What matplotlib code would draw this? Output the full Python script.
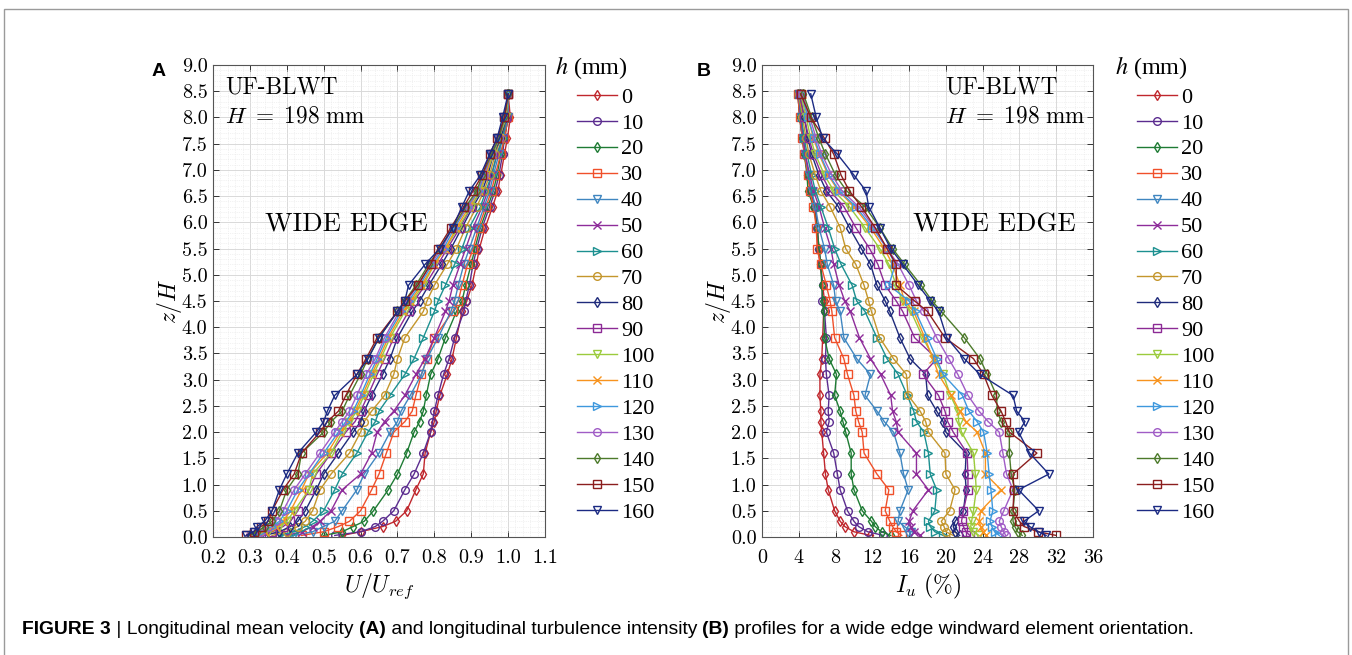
import matplotlib
matplotlib.use("Agg")
import matplotlib.pyplot as plt
from matplotlib.ticker import MultipleLocator, AutoMinorLocator
from matplotlib.patches import Rectangle

# ---------------- data ----------------
z_over_H = [0.03, 0.1, 0.2, 0.3, 0.5, 0.9, 1.2, 1.6, 2.0, 2.2, 2.4, 2.7, 3.1, 3.4,
            3.8, 4.3, 4.5, 4.8, 5.2, 5.5, 5.9, 6.3, 6.6, 6.9, 7.3, 7.6, 8.0, 8.45]

h_labels = ["0", "10", "20", "30", "40", "50", "60", "70", "80", "90",
            "100", "110", "120", "130", "140", "150", "160"]

# Panel A: U/Uref
U_h0   = [0.55, 0.60, 0.66, 0.695, 0.725, 0.75, 0.77, 0.775, 0.79, 0.80, 0.805, 0.815, 0.835, 0.848, 0.86,
          0.875, 0.888, 0.902, 0.914, 0.922, 0.938, 0.958, 0.972, 0.98, 0.99, 0.998, 1.006, 1.0]
U_h10  = [0.53, 0.60, 0.64, 0.66, 0.69, 0.72, 0.745, 0.77, 0.79, 0.795, 0.80, 0.81, 0.825, 0.84, 0.855,
          0.88, 0.885, 0.895, 0.905, 0.915, 0.93, 0.95, 0.965, 0.975, 0.985, 0.99, 1.0, 1.0]
U_h20  = [0.50, 0.55, 0.58, 0.61, 0.635, 0.675, 0.70, 0.725, 0.745, 0.76, 0.77, 0.778, 0.79, 0.81, 0.83,
          0.86, 0.875, 0.885, 0.90, 0.91, 0.925, 0.945, 0.96, 0.97, 0.98, 0.99, 1.0, 1.0]
U_h30  = [0.44, 0.50, 0.54, 0.57, 0.60, 0.63, 0.65, 0.67, 0.69, 0.72, 0.74, 0.75, 0.765, 0.78, 0.80,
          0.85, 0.865, 0.875, 0.89, 0.905, 0.92, 0.94, 0.955, 0.965, 0.98, 0.99, 1.0, 1.0]
U_h40  = [0.42, 0.47, 0.50, 0.53, 0.55, 0.59, 0.61, 0.65, 0.68, 0.70, 0.71, 0.735, 0.765, 0.78, 0.81,
          0.845, 0.855, 0.865, 0.88, 0.895, 0.915, 0.935, 0.95, 0.96, 0.975, 0.985, 1.0, 1.0]
U_h50  = [0.40, 0.44, 0.47, 0.49, 0.52, 0.55, 0.60, 0.63, 0.645, 0.665, 0.69, 0.72, 0.75, 0.775, 0.80,
          0.83, 0.84, 0.85, 0.87, 0.885, 0.905, 0.93, 0.945, 0.955, 0.97, 0.985, 0.995, 1.0]
U_h60  = [0.38, 0.42, 0.45, 0.47, 0.50, 0.53, 0.55, 0.59, 0.62, 0.64, 0.65, 0.68, 0.72, 0.745, 0.77,
          0.80, 0.81, 0.83, 0.855, 0.875, 0.895, 0.925, 0.94, 0.955, 0.97, 0.985, 0.995, 1.0]
U_h70  = [0.36, 0.40, 0.43, 0.45, 0.47, 0.49, 0.52, 0.57, 0.60, 0.61, 0.63, 0.665, 0.69, 0.70, 0.72,
          0.77, 0.78, 0.80, 0.835, 0.86, 0.885, 0.915, 0.935, 0.95, 0.965, 0.98, 0.995, 1.0]
U_h80  = [0.34, 0.38, 0.41, 0.43, 0.45, 0.48, 0.50, 0.54, 0.58, 0.60, 0.61, 0.63, 0.66, 0.68, 0.70,
          0.74, 0.76, 0.785, 0.82, 0.845, 0.875, 0.905, 0.93, 0.945, 0.96, 0.98, 0.995, 1.0]
U_h90  = [0.33, 0.36, 0.39, 0.41, 0.43, 0.46, 0.48, 0.52, 0.56, 0.585, 0.60, 0.62, 0.645, 0.665, 0.69,
          0.73, 0.745, 0.775, 0.81, 0.835, 0.87, 0.90, 0.925, 0.94, 0.96, 0.975, 0.995, 1.0]
U_h100 = [0.32, 0.35, 0.38, 0.40, 0.42, 0.46, 0.47, 0.52, 0.55, 0.57, 0.59, 0.61, 0.635, 0.655, 0.68,
          0.72, 0.74, 0.77, 0.80, 0.83, 0.865, 0.90, 0.925, 0.94, 0.96, 0.975, 0.995, 1.0]
U_h110 = [0.31, 0.34, 0.37, 0.39, 0.41, 0.44, 0.46, 0.51, 0.545, 0.565, 0.585, 0.605, 0.63, 0.65, 0.675,
          0.715, 0.735, 0.765, 0.80, 0.83, 0.86, 0.895, 0.92, 0.94, 0.955, 0.975, 0.99, 1.0]
U_h120 = [0.31, 0.33, 0.36, 0.38, 0.40, 0.43, 0.46, 0.50, 0.54, 0.56, 0.58, 0.60, 0.625, 0.645, 0.67,
          0.71, 0.73, 0.76, 0.795, 0.825, 0.855, 0.89, 0.92, 0.935, 0.955, 0.975, 0.99, 1.0]
U_h130 = [0.30, 0.33, 0.35, 0.37, 0.39, 0.42, 0.45, 0.49, 0.53, 0.55, 0.57, 0.59, 0.615, 0.64, 0.665,
          0.705, 0.725, 0.755, 0.79, 0.82, 0.85, 0.89, 0.915, 0.935, 0.955, 0.975, 0.99, 1.0]
U_h140 = [0.30, 0.32, 0.34, 0.36, 0.38, 0.40, 0.43, 0.44, 0.50, 0.52, 0.55, 0.57, 0.60, 0.62, 0.65,
          0.70, 0.72, 0.75, 0.785, 0.815, 0.85, 0.885, 0.915, 0.93, 0.955, 0.975, 0.99, 1.0]
U_h150 = [0.29, 0.31, 0.33, 0.35, 0.36, 0.39, 0.42, 0.44, 0.49, 0.51, 0.54, 0.56, 0.59, 0.615, 0.645,
          0.70, 0.72, 0.755, 0.79, 0.81, 0.845, 0.88, 0.905, 0.93, 0.95, 0.97, 0.99, 1.0]
U_h160 = [0.29, 0.31, 0.32, 0.34, 0.36, 0.38, 0.40, 0.43, 0.48, 0.50, 0.51, 0.53, 0.59, 0.62, 0.65,
          0.70, 0.72, 0.73, 0.775, 0.815, 0.85, 0.875, 0.895, 0.925, 0.95, 0.97, 0.985, 1.0]

# Panel B: Iu (%)
I_h0   = [11.8, 10.0, 9.0, 8.5, 7.9, 7.2, 6.9, 6.7, 6.5, 6.4, 6.4, 6.3, 6.3, 6.5, 6.6,
          6.7, 6.8, 6.6, 6.3, 6.1, 6.0, 5.7, 5.3, 5.0, 4.6, 4.4, 4.1, 3.9]
I_h10  = [13.2, 11.5, 10.5, 10.0, 9.3, 8.5, 8.2, 7.8, 7.0, 7.3, 7.2, 7.3, 7.0, 6.9, 7.0,
          6.8, 6.5, 6.6, 6.4, 6.2, 6.0, 5.8, 5.3, 5.0, 4.7, 4.5, 4.2, 4.0]
I_h20  = [14.0, 13.0, 12.3, 11.9, 10.9, 10.0, 9.7, 9.7, 9.1, 8.8, 8.5, 7.9, 8.1, 7.3, 6.8,
          6.7, 6.6, 6.5, 6.4, 6.2, 6.0, 5.6, 5.0, 4.9, 4.6, 4.4, 4.1, 3.9]
I_h30  = [15.2, 14.6, 14.2, 13.9, 13.4, 13.8, 12.5, 11.1, 10.9, 10.5, 10.2, 10.0, 9.3, 8.9, 7.9,
          7.6, 7.4, 7.0, 6.4, 6.0, 5.9, 5.6, 5.2, 5.0, 4.6, 4.4, 4.1, 3.9]
I_h40  = [16.0, 16.2, 15.5, 14.8, 15.0, 15.9, 15.4, 15.0, 14.3, 13.3, 12.5, 11.2, 11.8, 10.3, 8.9,
          8.5, 8.0, 7.8, 7.1, 6.8, 6.2, 5.8, 5.4, 5.1, 4.7, 4.5, 4.2, 4.0]
I_h50  = [17.2, 16.5, 16.2, 16.0, 16.4, 18.1, 16.8, 16.8, 14.8, 14.6, 14.2, 14.0, 12.9, 11.8, 10.6,
          9.6, 9.0, 8.4, 7.8, 7.5, 6.8, 6.2, 5.6, 5.2, 4.7, 4.5, 4.2, 4.0]
I_h60  = [19.7, 18.8, 18.3, 18.1, 18.8, 19.0, 18.3, 18.1, 17.6, 16.8, 16.5, 15.8, 14.8, 13.6, 12.5,
          11.2, 10.3, 9.8, 8.6, 7.9, 7.2, 6.4, 5.8, 5.4, 4.9, 4.6, 4.3, 4.0]
I_h70  = [20.8, 20.0, 19.8, 19.5, 20.4, 21.0, 20.0, 19.9, 18.1, 17.8, 17.2, 15.9, 15.7, 14.3, 12.8,
          11.9, 11.6, 11.1, 10.2, 9.1, 8.5, 7.4, 6.4, 5.8, 5.1, 4.8, 4.4, 4.0]
I_h80  = [21.5, 21.0, 20.8, 21.0, 21.9, 22.2, 22.1, 22.2, 20.0, 19.7, 19.0, 18.0, 17.8, 16.1, 15.0,
          13.9, 13.4, 12.5, 11.8, 10.8, 9.5, 8.3, 7.0, 6.2, 5.4, 5.0, 4.6, 4.1]
I_h90  = [22.6, 22.2, 21.9, 21.7, 21.9, 22.4, 22.4, 22.3, 20.8, 20.2, 19.9, 19.2, 17.5, 19.0, 16.6,
          15.3, 14.6, 13.4, 12.6, 11.7, 10.2, 8.9, 7.4, 6.5, 5.6, 5.1, 4.6, 4.1]
I_h100 = [23.6, 23.0, 22.7, 22.8, 23.0, 23.3, 23.2, 23.0, 21.7, 21.4, 21.3, 20.5, 19.7, 18.7, 17.5,
          16.2, 15.3, 14.6, 13.8, 12.8, 11.2, 9.5, 7.8, 6.8, 5.8, 5.3, 4.8, 4.2]
I_h110 = [24.4, 24.0, 23.8, 23.6, 23.8, 26.0, 24.3, 24.3, 23.4, 22.2, 21.5, 20.6, 19.2, 18.6, 17.7,
          16.5, 15.5, 15.0, 14.2, 13.3, 11.8, 10.0, 8.3, 7.2, 6.2, 5.6, 5.0, 4.3]
I_h120 = [25.8, 25.3, 25.0, 24.8, 25.1, 24.9, 24.7, 24.5, 24.1, 23.4, 22.5, 21.8, 19.7, 19.0, 18.0,
          16.7, 16.0, 13.8, 14.5, 13.6, 12.0, 10.2, 8.4, 7.3, 6.3, 5.7, 5.0, 4.3]
I_h130 = [26.5, 26.3, 26.0, 25.8, 26.3, 27.3, 26.6, 26.2, 25.8, 24.6, 23.6, 22.4, 21.3, 20.3, 19.0,
          17.6, 16.8, 16.0, 14.8, 13.6, 12.2, 10.5, 8.7, 7.6, 6.5, 5.9, 5.2, 4.4]
I_h140 = [28.3, 27.8, 27.5, 27.3, 27.3, 27.5, 27.1, 26.9, 26.9, 26.0, 25.6, 25.5, 24.5, 23.7, 22.0,
          19.5, 18.5, 17.3, 15.5, 14.2, 12.8, 11.2, 9.2, 8.0, 6.9, 6.2, 5.4, 4.5]
I_h150 = [32.0, 30.0, 28.5, 28.0, 27.3, 27.4, 27.3, 29.9, 26.9, 26.5, 26.0, 25.0, 24.1, 23.0, 19.9,
          18.0, 16.6, 14.6, 14.6, 13.6, 12.3, 10.8, 9.5, 8.6, 7.8, 6.8, 5.3, 4.2]
I_h160 = [30.9, 30.1, 29.1, 28.5, 30.1, 27.9, 31.2, 29.1, 27.9, 28.6, 27.7, 27.3, 23.7, 22.0, 20.1,
          19.2, 18.3, 17.0, 15.3, 14.0, 12.8, 11.6, 11.3, 10.0, 8.2, 6.6, 5.9, 5.3]

U_series = [U_h0, U_h10, U_h20, U_h30, U_h40, U_h50, U_h60, U_h70, U_h80,
            U_h90, U_h100, U_h110, U_h120, U_h130, U_h140, U_h150, U_h160]
I_series = [I_h0, I_h10, I_h20, I_h30, I_h40, I_h50, I_h60, I_h70, I_h80,
            I_h90, I_h100, I_h110, I_h120, I_h130, I_h140, I_h150, I_h160]

# ---------------- style ----------------
colors = ['#C0272D', '#5B2C8F', '#1E7B34', '#F0502A', '#3F86C0', '#8E2C9A', '#1C9090',
          '#C4962C', '#1F2B7B', '#8C2A95', '#9BCB3C', '#F7931E', '#3E98DD', '#A05CC6',
          '#4C7A2A', '#8B1E1E', '#1B2A83']
markers = ['d', 'o', 'd', 's', 'v', 'x', '>', 'o', 'd', 's', 'v', 'x', '>', 'o', 'd', 's', 'v']

plt.rcParams['mathtext.fontset'] = 'cm'
plt.rcParams['font.family'] = ['cmr10', 'DejaVu Serif']
plt.rcParams['axes.formatter.use_mathtext'] = True

W, H = 1352, 655
fig = plt.figure(figsize=(W / 100, H / 100), dpi=100)


def fx(px):
    return px / W


def fy(py):
    return 1 - py / H


tick_fs = 14.5
leg_fs = 16


def style_axes(ax, xlim, xmaj, xminor_n, xfmt):
    ax.set_xlim(*xlim)
    ax.set_ylim(0, 9)
    ax.xaxis.set_major_locator(MultipleLocator(xmaj))
    ax.xaxis.set_minor_locator(AutoMinorLocator(xminor_n))
    ax.yaxis.set_major_locator(MultipleLocator(0.5))
    ax.yaxis.set_minor_locator(AutoMinorLocator(5))
    ax.xaxis.set_major_formatter(plt.FuncFormatter(lambda v, p: xfmt.format(v)))
    ax.yaxis.set_major_formatter(plt.FuncFormatter(lambda v, p: "{:.1f}".format(v)))
    ax.grid(True, which='major', color='#d9d9d9', lw=0.7, ls='-')
    ax.grid(True, which='minor', color='#e6e6e6', lw=0.5, ls=':')
    ax.set_axisbelow(True)
    ax.tick_params(which='both', direction='in', top=True, right=True,
                   labelsize=tick_fs, colors='#333333', labelcolor='black')
    ax.tick_params(which='major', length=4, width=0.7)
    ax.tick_params(axis='x', which='major', pad=9)
    ax.tick_params(axis='y', which='major', pad=4)
    ax.tick_params(which='minor', length=0)
    for s in ax.spines.values():
        s.set_color('#555555')
        s.set_linewidth(0.8)


axA = fig.add_axes([fx(213), fy(537), fx(545) - fx(213), fy(65) - fy(537)])
axB = fig.add_axes([fx(762), fy(537), fx(1093) - fx(762), fy(65) - fy(537)])

handles = []
for i in range(len(h_labels)):
    ln, = axA.plot(U_series[i], z_over_H, color=colors[i], marker=markers[i], ms=5.5,
                   mfc='none', mew=1.0, lw=1.0, label=h_labels[i])
    axB.plot(I_series[i], z_over_H, color=colors[i], marker=markers[i], ms=5.5,
             mfc='none', mew=1.0, lw=1.0, label=h_labels[i])
    handles.append(ln)

style_axes(axA, (0.2, 1.1), 0.1, 5, "{:.1f}")
style_axes(axB, (0, 36), 4, 4, "{:.0f}")

for ax in (axA, axB):
    ax.set_ylabel(r'$z/H$', fontsize=17, labelpad=-2)
axA.set_xlabel(r'$U/U_{ref}$', fontsize=17, labelpad=3)
axB.set_xlabel(r'$I_u\ (\%)$', fontsize=17, labelpad=3)

# annotations in panels
axA.text(0.036, 0.953, 'UF-BLWT', transform=axA.transAxes, fontsize=16.8,
         family='cmr10', va='center', ha='left')
axA.text(0.036, 0.89, r'$H\ =\ 198\ \mathrm{mm}$', transform=axA.transAxes, fontsize=16.7,
         va='center', ha='left')
axA.text(0.157, 0.661, 'WIDE EDGE', transform=axA.transAxes, fontsize=19.3,
         family='cmr10', va='center', ha='left')
axB.text(0.553, 0.953, 'UF-BLWT', transform=axB.transAxes, fontsize=16.8,
         family='cmr10', va='center', ha='left')
axB.text(0.553, 0.89, r'$H\ =\ 198\ \mathrm{mm}$', transform=axB.transAxes, fontsize=16.7,
         va='center', ha='left')
axB.text(0.456, 0.661, 'WIDE EDGE', transform=axB.transAxes, fontsize=19.3,
         family='cmr10', va='center', ha='left')

# legends
for lx in (555, 1115):
    fig.text(fx(lx), fy(68), r'$h$ (mm)', fontsize=17.4, family='Liberation Serif',
             math_fontfamily='stix', va='center', ha='left')
    fig.legend(handles, h_labels, loc='upper left',
               bbox_to_anchor=(fx(lx + 22), fy(87)), frameon=False,
               prop={'family': 'Liberation Serif', 'size': leg_fs},
               handlelength=1.8, handletextpad=0.18, labelspacing=0.243,
               borderaxespad=0, borderpad=0)

# panel letters
fig.text(fx(152), fy(72), 'A', fontsize=14, fontweight='bold', family='Liberation Sans',
         va='center', ha='left')
fig.text(fx(697), fy(72), 'B', fontsize=14, fontweight='bold', family='Liberation Sans',
         va='center', ha='left')

# outer frame
fig.patches.append(Rectangle((fx(4), -0.05), fx(1348) - fx(4), fy(9) + 0.05,
                             transform=fig.transFigure, fill=False,
                             edgecolor='#9a9a9a', lw=1.0, clip_on=False))

# caption with mixed weights
pieces = [("FIGURE 3", 'bold'), (" | Longitudinal mean velocity ", 'normal'), ("(A)", 'bold'),
          (" and longitudinal turbulence intensity ", 'normal'), ("(B)", 'bold'),
          (" profiles for a wide edge windward element orientation.", 'normal')]
fig.canvas.draw()
renderer = fig.canvas.get_renderer()
x = fx(22)
for txt, wt in pieces:
    t = fig.text(x, fy(629), txt, fontsize=13.9, fontweight=wt, family='Liberation Sans',
                 va='center', ha='left')
    bb = t.get_window_extent(renderer=renderer)
    x += bb.width / W

# force Computer Modern on all tick labels (after ticks exist)
for ax in (axA, axB):
    for lab in ax.get_xticklabels() + ax.get_yticklabels():
        lab.set_fontfamily('cmr10')
        lab.set_fontsize(tick_fs)

fig.savefig('out.png', dpi=100)
